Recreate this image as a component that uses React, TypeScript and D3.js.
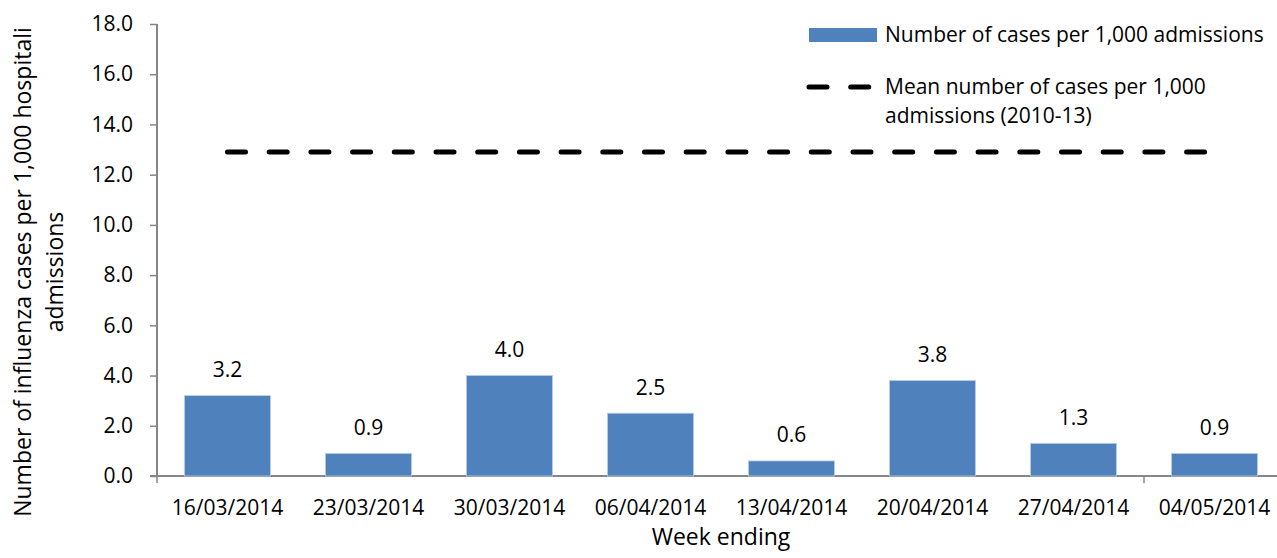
import React, { useEffect, useRef } from "react";
import * as d3 from "d3";

// data
const weeks = [
  "16/03/2014", "23/03/2014", "30/03/2014", "06/04/2014",
  "13/04/2014", "20/04/2014", "27/04/2014", "04/05/2014",
];
const casesPer1000 = [3.2, 0.9, 4.0, 2.5, 0.6, 3.8, 1.3, 0.9];
const meanCases = [12.9, 12.9, 12.9, 12.9, 12.9, 12.9, 12.9, 12.9];
const yTicks = [0, 2, 4, 6, 8, 10, 12, 14, 16, 18];
const yTitleLines = ["Number of influenza cases per 1,000 hospitali", "admissions"];
const legendBar = "Number of cases per 1,000 admissions";
const legendLine = ["Mean number of cases per 1,000", "admissions (2010-13)"];

const App = () => {
  const svgRef = useRef<SVGSVGElement>(null);

  useEffect(() => {
    const width = 1277;
    const height = 558;
    const font = "'Open Sans', sans-serif";
    const axisColor = "#868686";
    const barColor = "#4F81BD";

    const svg = d3.select(svgRef.current);
    svg.selectAll("*").remove();
    svg.attr("width", width).attr("height", height);

    const x = d3.scaleBand<string>()
      .domain(weeks)
      .range([157, 1285])
      .paddingInner(0.39)
      .paddingOuter(0.195);

    const y = d3.scaleLinear().domain([0, 18]).range([476, 24]);

    // y axis
    const yAxis = svg.append("g").attr("transform", "translate(157,0)")
      .call(d3.axisLeft(y).tickValues(yTicks).tickFormat(d3.format(".1f")).tickSize(7).tickPadding(17));
    yAxis.select(".domain").attr("stroke", axisColor).attr("stroke-width", 2).attr("d", `M0,${y(18)}V${y(0)}`);
    yAxis.selectAll(".tick line").attr("stroke", axisColor).attr("stroke-width", 1.5);
    yAxis.selectAll(".tick text")
      .attr("fill", "#000")
      .style("font-family", font)
      .style("font-size", "21px");

    // x axis line + sparse tick marks
    svg.append("line")
      .attr("x1", 150).attr("x2", width)
      .attr("y1", y(0)).attr("y2", y(0))
      .attr("stroke", axisColor).attr("stroke-width", 2);
    const step = x.step();
    [0, 7].forEach(i => {
      const xx = x.range()[0] + i * step;
      svg.append("line")
        .attr("x1", xx).attr("x2", xx)
        .attr("y1", y(0)).attr("y2", y(0) + 7)
        .attr("stroke", axisColor).attr("stroke-width", 1.5);
    });

    // x labels
    svg.append("g").selectAll("text")
      .data(weeks)
      .join("text")
      .attr("x", d => (x(d) as number) + x.bandwidth() / 2)
      .attr("y", 515)
      .attr("text-anchor", "middle")
      .style("font-family", font)
      .style("font-size", "21px")
      .text(d => d);

    // bars
    svg.append("g").selectAll("rect")
      .data(casesPer1000)
      .join("rect")
      .attr("x", (d, i) => x(weeks[i]) as number)
      .attr("y", d => y(d))
      .attr("width", x.bandwidth())
      .attr("height", d => y(0) - y(d))
      .attr("fill", barColor)
      .attr("stroke", "#b9cde5")
      .attr("stroke-width", 0.8);

    // value labels
    svg.append("g").selectAll("text")
      .data(casesPer1000)
      .join("text")
      .attr("x", (d, i) => (x(weeks[i]) as number) + x.bandwidth() / 2)
      .attr("y", d => y(d) - 18.5)
      .attr("text-anchor", "middle")
      .style("font-family", font)
      .style("font-size", "21px")
      .text(d => d.toFixed(1));

    // mean line
    const line = d3.line<number>()
      .x((d, i) => (x(weeks[i]) as number) + x.bandwidth() / 2)
      .y(d => y(d));
    svg.append("path")
      .datum(meanCases)
      .attr("d", line)
      .attr("fill", "none")
      .attr("stroke", "#000")
      .attr("stroke-width", 5)
      .attr("stroke-linecap", "round")
      .attr("stroke-dasharray", "18,23.7");

    // y title
    const yTitle = svg.append("text")
      .attr("transform", "translate(31,272) rotate(-90)")
      .attr("text-anchor", "middle")
      .style("font-family", font)
      .style("font-size", "23px");
    yTitle.append("tspan").attr("x", 0).attr("y", 0).text(yTitleLines[0]);
    yTitle.append("tspan").attr("x", 0).attr("y", 32).text(yTitleLines[1]);

    // x title
    svg.append("text")
      .attr("x", 721)
      .attr("y", 545)
      .attr("text-anchor", "middle")
      .style("font-family", font)
      .style("font-size", "23px")
      .text("Week ending");

    // legend
    const lg = svg.append("g");
    lg.append("rect")
      .attr("x", 809).attr("y", 28).attr("width", 68).attr("height", 14)
      .attr("fill", barColor);
    lg.append("text")
      .attr("x", 885).attr("y", 42)
      .style("font-family", font).style("font-size", "21px")
      .text(legendBar);
    lg.append("line")
      .attr("x1", 809).attr("x2", 872)
      .attr("y1", 87).attr("y2", 87)
      .attr("stroke", "#000").attr("stroke-width", 5)
      .attr("stroke-linecap", "round")
      .attr("stroke-dasharray", "18,23.7");
    const lt = lg.append("text")
      .style("font-family", font).style("font-size", "21px");
    lt.append("tspan").attr("x", 885).attr("y", 94).text(legendLine[0]);
    lt.append("tspan").attr("x", 885).attr("y", 123).text(legendLine[1]);
  }, []);

  return (
    <svg ref={svgRef} style={{ position: "absolute", left: 0, top: 0, background: "#fff" }} />
  );
};

export default App;
